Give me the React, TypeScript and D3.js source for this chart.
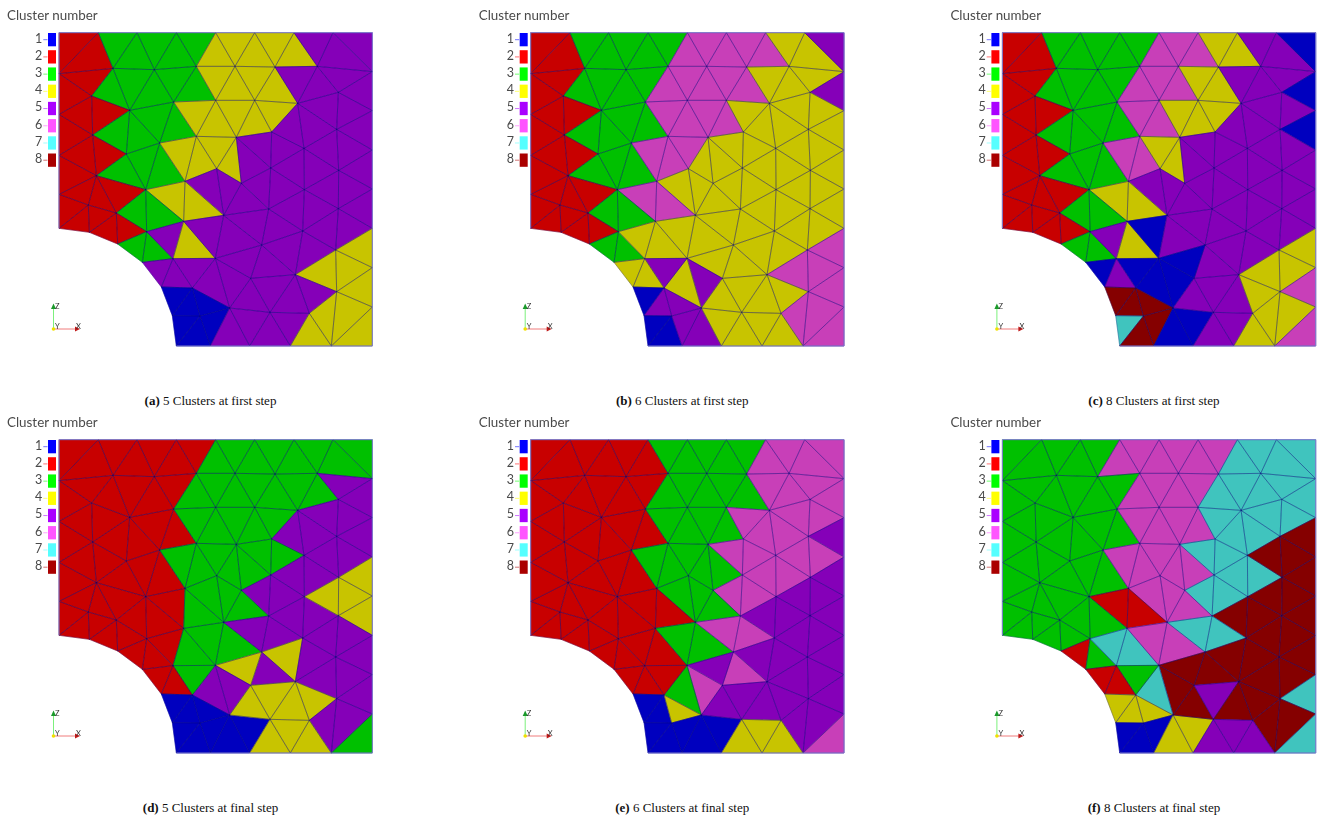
import React from "react";
import * as d3 from "d3";

const nodeX = [177,295,411,529,647,764,882,999,1117,
  177,339,463,589,705,825,952,1117,
  177,275,389,521,647,764,893,1015,1117,
  177,278,379,479,589,709,815,912,1010,1117,
  177,289,437,555,650,724,812,913,1016,1117,
  177,265,349,440,551,671,806,908,1015,1117,
  268,353,427,519,646,785,1007,1117,
  484,577,752,886,1010,1117,
  517,600,689,810,928,
  529,631,749,871,994,1117];
const nodeY = [98,98,98,98,98,98,98,98,98,
  221,205,209,199,199,201,199,215,
  343,288,331,306,301,301,310,277,332,
  466,405,462,429,409,412,396,445,388,450,
  583,527,569,544,506,550,504,569,511,567,
  685,615,639,695,664,646,627,693,626,685,
  697,732,787,776,775,735,750,803,
  861,864,835,824,875,921,
  947,948,924,937,940,
  1038,1038,1038,1038,1038,1038];

const triangles = [
  [0,1,9],[1,9,10],[1,2,10],[2,10,11],[2,3,11],[3,11,12],[3,4,12],[4,12,13],[4,5,13],[5,13,14],[5,6,14],[6,14,15],[6,7,15],[7,15,16],[7,8,16],
  [9,10,18],[9,17,18],[10,18,19],[10,11,19],[11,19,20],[11,12,20],[12,20,21],[12,13,21],[13,21,22],[13,14,22],[14,22,23],[14,15,23],[15,23,24],[15,16,24],[16,24,25],
  [17,18,27],[17,26,27],[18,19,27],[19,27,28],[19,20,29],[19,28,29],[20,29,30],[20,21,30],[21,30,31],[21,22,31],[22,31,32],[22,23,32],[23,32,33],[23,33,34],[23,24,34],[24,25,34],[25,34,35],
  [26,27,37],[26,36,37],[27,28,37],[28,37,38],[28,29,38],[29,38,39],[29,30,39],[30,39,40],[30,31,40],[31,40,41],[31,41,42],[31,32,42],[32,33,42],[33,42,43],[33,43,44],[33,34,44],[34,35,44],[35,44,45],
  [39,40,51],[40,41,51],[41,42,52],[41,51,52],[42,43,52],[43,52,53],[43,53,54],[43,44,54],[44,45,54],[45,54,55],
  [38,39,50],[39,50,51],[38,49,50],[37,38,48],[38,48,49],[37,47,48],[36,37,47],[36,46,47],[46,47,56],[47,48,56],[48,56,57],[48,49,57],[49,57,58],[49,58,59],[49,50,59],
  [50,59,60],[50,51,60],[51,60,61],[51,52,61],[52,53,61],[53,61,67],[53,62,67],[53,54,62],[54,55,62],[55,62,63],[62,63,68],[62,67,68],[63,68,69],
  [61,66,67],[60,61,66],[60,66,72],[60,65,72],[59,60,65],[58,59,64],[59,64,65],[64,65,70],[65,70,71],[65,71,72],[70,71,75],[71,75,76],[71,72,76],[72,76,77],[72,73,77],
  [66,72,73],[66,67,73],[67,73,74],[67,68,74],[68,74,79],[68,69,79],[69,79,80],[73,74,78],[73,77,78],[74,78,79],
];

// one string per triangle, one digit per panel (a..f): cluster number
const triClusters = [
  "222223","222223","333223","333223","333223","333226","333236","466336","466336","466336","464336","464367","545367","545367","551367",
  "222223","222223","333223","333223","333223","333223","366336","466336","466336","464336","464337","545367","545367","545567","551567",
  "222223","222223","222223","333223","333223","333223","333223","466336","466336","464336","464336","444367","545567","545567","545567","545567","541558",
  "222223","222223","222223","333223","333223","333223","466336","466336","464336","444336","545336","545367","545367","545567","545567","545568","545568","545458",
  "545336","545336","545567","545336","545567","545558","545558","545458","545458","545458",
  "464222","464322","333223","222223","333223","222223","222223","222223","222223","222223","222223","222223","333222","333223","545227",
  "444327","541336","545336","545567","545567","545458","545558","545558","545558","464558","464558","464558","466557",
  "545568","541458","551568","541537","551323","541222","545222","118114","158114","158144","117111","118111","158111","551114","541114",
  "545458","545455","545458","544458","464558","464558","466367","545445","545445","444445",
];

const outlineNodes = [46,36,26,17,9,0,1,2,3,4,5,6,7,8,16,25,35,45,55,63,69,80,79,78,77,76,75];

const clusterLabels = ["1","2","3","4","5","6","7","8"];
const meshColors = ["#0000bf","#c80000","#00c000","#c8c400","#8500b8","#c83fb8","#40c4be","#850000"];
const legendColors = ["#0000ff","#ff0000","#00ff00","#ffff00","#aa00ff","#ff55ff","#55ffff","#aa0000"];
const captionTags = ["(a)","(b)","(c)","(d)","(e)","(f)"];
const captionTexts = ["5 Clusters at first step","6 Clusters at first step","8 Clusters at first step","5 Clusters at final step","6 Clusters at final step","8 Clusters at final step"];
const panelOffsetX = [0, 471.7, 943.4];
const panelOffsetY = [0, 407];

const sx = d3.scaleLinear().domain([0, 1317 * 3]).range([0, 1317]);
const sy = d3.scaleLinear().domain([0, 819 * 3]).range([0, 819]);
const legendY = d3.scalePoint<string>().domain(clusterLabels).range([39.7, 160.2]);
const line = d3.line();

function Panel({ index }: { index: number }) {
  const dx = panelOffsetX[index % 3];
  const dy = panelOffsetY[Math.floor(index / 3)];
  const pt = (n: number): [number, number] => [sx(nodeX[n]), sy(nodeY[n])];
  const triPath = (t: number[]) => line(t.map(pt))! + "Z";
  return (
    <g>
      <g transform={`translate(${dx},${dy})`} filter="url(#soft)">
        <text x={7} y={19.8} fontFamily="Lato, sans-serif" fontSize={13.4} fill="#4a4a4a">Cluster number</text>
        {clusterLabels.map((c, i) => {
          const y = legendY(c)!;
          return (
            <g key={c}>
              <rect x={48} y={y - 6.7} width={8} height={13.3} fill={legendColors[i]} />
              <line x1={43.3} x2={47.5} y1={y} y2={y} stroke={legendColors[i]} strokeOpacity={0.55} strokeWidth={1} />
              <text x={42.3} y={y + 2.9} textAnchor="end" fontFamily="Lato, sans-serif" fontSize={12.5} fill="#4a4a4a">{c}</text>
            </g>
          );
        })}
        {triangles.map((t, i) => {
          const fill = meshColors[+triClusters[i][index] - 1];
          return <path key={i} d={triPath(t)} fill={fill} stroke={fill} strokeWidth={0.5} strokeLinejoin="round" />;
        })}
        {triangles.map((t, i) => (
          <path key={i} d={triPath(t)} fill="none" stroke="#00007a" strokeOpacity={0.5} strokeWidth={0.55} strokeLinejoin="round" />
        ))}
        <path d={line(outlineNodes.map(pt))!} fill="none" stroke="#7f7fd0" strokeWidth={1} />
        {/* orientation triad */}
        <line x1={53.5} x2={53.5} y1={329} y2={306} stroke="#7cf07c" strokeWidth={1} />
        <line x1={53.5} x2={77} y1={329} y2={329} stroke="#f07c7c" strokeWidth={1} />
        <path d="M53.5,303.5L51,309L56,309Z" fill="#1a9a2a" />
        <path d="M80,329L75,326.5L75,331.5Z" fill="#c01818" />
        <circle cx={53.5} cy={329} r={1.8} fill="#f0e000" />
        <text x={55} y={308.7} fontFamily="Lato, sans-serif" fontSize={7.5} fill="#333">Z</text>
        <text x={55} y={329} fontFamily="Lato, sans-serif" fontSize={7.5} fill="#333">Y</text>
        <text x={76} y={329} fontFamily="Lato, sans-serif" fontSize={7.5} fill="#333">X</text>
      </g>
      <text x={210.5 + dx} y={404.5 + dy} textAnchor="middle" fontFamily="'Liberation Serif', serif" fontSize={13} fill="#111">
        <tspan fontWeight="bold">{captionTags[index]}</tspan> {captionTexts[index]}
      </text>
    </g>
  );
}

export default function App() {
  return (
    <svg width={1317} height={819} viewBox="0 0 1317 819" style={{ position: "absolute", left: 0, top: 0, display: "block", background: "#fff" }}>
      <defs>
        <filter id="soft" x="-5%" y="-5%" width="110%" height="110%" colorInterpolationFilters="sRGB">
          <feGaussianBlur stdDeviation="0.3" />
        </filter>
      </defs>
      {captionTags.map((_, i) => <Panel key={i} index={i} />)}
    </svg>
  );
}
